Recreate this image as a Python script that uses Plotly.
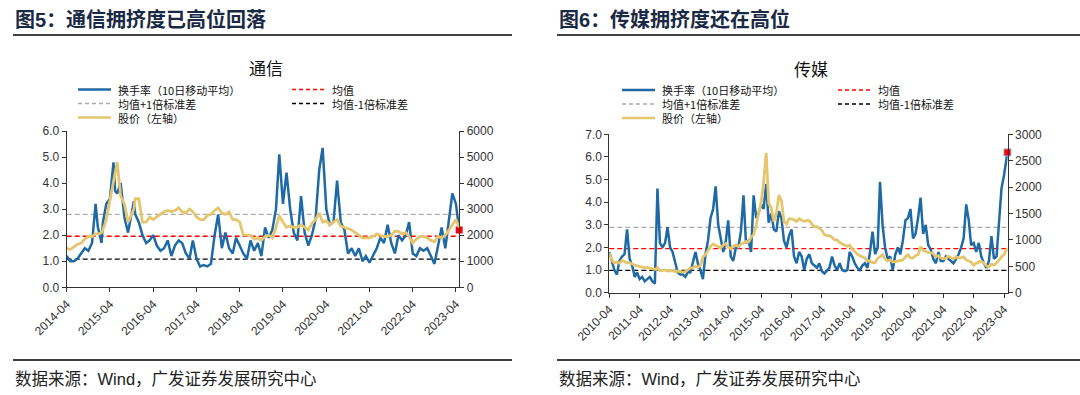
import plotly.graph_objects as go

# ---------------- 通信 (left panel) ----------------
tx_dates = [
 "2014-04","2014-05","2014-06","2014-07","2014-08","2014-09","2014-10","2014-11","2014-12","2014-12-20",
 "2015-01","2015-01-20","2015-02","2015-03","2015-04","2015-05","2015-05-15","2015-06","2015-07","2015-08","2015-09","2015-10","2015-10-20","2015-11","2015-12",
 "2016-01","2016-02","2016-03","2016-04","2016-05","2016-06","2016-07","2016-08","2016-09","2016-10","2016-11","2016-12",
 "2017-01","2017-02","2017-03","2017-04","2017-05","2017-06","2017-07","2017-08","2017-09","2017-10","2017-11","2017-12",
 "2018-01","2018-02","2018-03","2018-04","2018-05","2018-06","2018-07","2018-08","2018-09","2018-10","2018-11","2018-12",
 "2019-01","2019-02","2019-03","2019-04","2019-05","2019-06","2019-07","2019-08","2019-09","2019-10","2019-11","2019-12",
 "2020-01","2020-02","2020-03","2020-04","2020-05","2020-06","2020-07","2020-08","2020-09","2020-10","2020-11","2020-12",
 "2021-01","2021-02","2021-03","2021-04","2021-05","2021-06","2021-07","2021-08","2021-09","2021-10","2021-11","2021-12",
 "2022-01","2022-02","2022-03","2022-04","2022-05","2022-06","2022-07","2022-08","2022-09","2022-10","2022-11","2022-12",
 "2023-01","2023-02","2023-03","2023-04","2023-04-28"]
tx_turnover = [
 1.2,1.0,1.0,1.1,1.3,1.5,1.4,1.7,3.2,2.3,
 2.1,1.7,2.5,3.2,3.4,4.8,3.7,3.6,4.0,2.7,2.1,2.9,3.3,2.8,2.5,
 2.0,1.7,1.8,2.0,1.6,1.4,1.5,1.8,1.2,1.6,1.8,1.7,
 1.3,1.1,1.8,1.1,0.8,0.85,0.8,0.9,2.0,2.8,1.5,2.1,
 1.5,1.3,1.9,1.6,1.3,1.1,1.8,1.4,1.7,1.2,2.3,1.9,
 2.2,3.0,5.1,3.2,4.4,3.0,2.1,1.8,3.5,2.1,1.6,2.0,
 2.6,4.5,5.35,3.0,2.4,2.5,4.1,2.5,2.2,1.3,1.5,1.2,
 1.5,1.0,1.2,0.95,1.2,1.5,1.9,1.7,2.4,1.7,1.3,2.0,
 1.8,2.0,2.5,1.3,1.2,1.5,1.4,1.5,1.2,0.9,1.6,2.3,
 1.5,2.5,3.6,3.2,2.2]
tx_price = [
 1500,1450,1550,1650,1700,1850,1950,1950,2050,2050,
 2050,2100,2200,2600,3300,4000,4300,4800,3500,3200,2500,2800,3000,3400,3400,
 2500,2500,2700,2600,2700,2800,2900,2950,2900,2950,3050,2900,
 2850,3000,2900,2700,2600,2600,2750,2800,2950,3050,2850,2800,
 2900,2600,2600,2500,2000,2000,2000,1850,1900,1800,1950,2000,
 1900,2300,2750,2500,2300,2350,2300,2300,2400,2300,2200,2450,
 2600,2850,2500,2550,2400,2500,2600,2350,2300,2250,2200,2100,
 2000,1900,1900,1900,1950,2050,2000,1950,1950,2000,2150,2150,
 2050,2100,1950,1700,1850,1950,1950,1900,1800,1750,1950,1900,
 2000,2200,2400,2600,2300]
tx_mean, tx_plus, tx_minus = 1.96, 2.80, 1.08
tx_last = 2.2
tx_ticks = ["2014-04","2015-04","2016-04","2017-04","2018-04","2019-04","2020-04","2021-04","2022-04","2023-04"]

# ---------------- 传媒 (right panel) ----------------
cm_dates = [
 "2010-04","2010-05","2010-06","2010-07","2010-08","2010-09","2010-10","2010-11","2010-12",
 "2011-01","2011-02","2011-03","2011-04","2011-05","2011-06","2011-07","2011-08","2011-09","2011-10","2011-11","2011-12",
 "2012-01","2012-02","2012-03","2012-04","2012-05","2012-06","2012-07","2012-08","2012-09","2012-10","2012-11","2012-12",
 "2013-01","2013-02","2013-03","2013-04","2013-05","2013-06","2013-07","2013-08","2013-09","2013-10","2013-11","2013-12",
 "2014-01","2014-02","2014-03","2014-04","2014-05","2014-06","2014-07","2014-08","2014-09","2014-10","2014-11","2014-12",
 "2015-01","2015-02","2015-03","2015-04","2015-05","2015-06","2015-07","2015-08","2015-09","2015-10","2015-11","2015-12",
 "2016-01","2016-02","2016-03","2016-04","2016-05","2016-06","2016-07","2016-08","2016-09","2016-10","2016-11","2016-12",
 "2017-01","2017-02","2017-03","2017-04","2017-05","2017-06","2017-07","2017-08","2017-09","2017-10","2017-11","2017-12",
 "2018-01","2018-02","2018-03","2018-04","2018-05","2018-06","2018-07","2018-08","2018-09","2018-10","2018-11","2018-12",
 "2019-01","2019-02","2019-03","2019-04","2019-05","2019-06","2019-07","2019-08","2019-09","2019-10","2019-11","2019-12",
 "2020-01","2020-02","2020-03","2020-04","2020-05","2020-06","2020-07","2020-08","2020-09","2020-10","2020-11","2020-12",
 "2021-01","2021-02","2021-03","2021-04","2021-05","2021-06","2021-07","2021-08","2021-09","2021-10","2021-11","2021-12",
 "2022-01","2022-02","2022-03","2022-04","2022-05","2022-06","2022-07","2022-08","2022-09","2022-10","2022-11","2022-12",
 "2023-01","2023-02","2023-03","2023-04","2023-05-12"]
cm_turnover = [
 1.8,1.4,1.0,0.8,1.4,1.6,1.7,2.8,1.5,
 1.2,0.7,0.9,0.6,0.7,0.5,0.6,0.7,0.5,0.4,4.6,2.2,
 2.0,2.2,2.9,2.0,1.8,1.3,0.9,0.8,0.8,0.7,0.9,0.9,
 1.3,1.8,1.3,1.0,0.6,1.7,2.3,3.3,3.7,4.7,3.0,2.4,
 1.8,2.3,3.2,1.6,1.4,2.0,2.0,2.7,4.3,2.2,2.3,1.8,
 4.3,3.3,3.5,3.9,3.7,4.8,3.1,3.5,2.8,2.7,3.6,3.3,
 2.3,2.0,2.5,2.8,1.6,1.3,1.8,1.6,1.0,1.5,1.7,1.3,
 1.2,1.1,1.3,0.95,0.85,1.0,1.1,1.6,1.2,1.0,1.3,1.0,
 0.95,1.0,1.8,1.6,1.3,1.1,1.0,1.2,1.3,1.1,1.8,2.7,
 1.7,2.0,4.9,3.0,2.0,1.5,1.6,1.0,1.7,2.0,1.7,2.3,
 3.2,3.3,3.7,2.4,2.6,3.3,4.2,2.6,3.0,2.1,1.9,1.5,
 1.3,1.8,1.4,1.4,1.6,1.5,1.4,1.3,1.5,1.7,2.0,2.4,
 3.9,3.2,2.1,2.2,1.8,2.2,1.6,1.3,1.1,1.4,2.5,1.5,
 1.6,3.4,4.6,5.2,6.2]
cm_price = [
 750,620,560,580,560,610,590,560,570,
 540,520,510,500,490,470,480,460,450,440,470,410,
 420,430,410,410,420,400,410,400,390,400,430,470,
 470,500,480,520,680,720,800,880,920,900,870,850,
 900,930,870,830,880,900,870,920,940,970,960,1050,
 1100,1280,1500,1700,2100,2650,1700,1600,1350,1500,1850,1750,
 1350,1300,1400,1400,1380,1350,1400,1380,1350,1370,1360,1300,
 1250,1250,1220,1180,1100,1080,1080,1050,1000,1000,950,920,
 900,880,900,830,780,730,700,680,660,600,600,570,
 570,650,680,720,640,600,620,580,590,600,600,620,
 680,720,660,660,700,720,870,800,780,760,760,740,
 680,700,660,640,650,690,660,640,680,660,660,680,
 620,600,580,520,560,580,600,560,510,490,540,520,
 560,620,680,720,850]
cm_mean, cm_plus, cm_minus = 1.95, 2.89, 0.99
cm_last = 6.2
cm_ticks = ["2010-04","2011-04","2012-04","2013-04","2014-04","2015-04","2016-04","2017-04",
            "2018-04","2019-04","2020-04","2021-04","2022-04","2023-04"]

legend_names = ["换手率（10日移动平均）", "均值", "均值+1倍标准差", "均值-1倍标准差", "股价（左轴）"]

BLUE = "#1F6AA5"
GOLD = "#E5C66E"
W, H = 1080, 395
NUM_FONT = "Liberation Sans, Arial, sans-serif"
CJK_FONT = "Noto Sans CJK SC, sans-serif"

def px(x):
    return x / W

def py(y):
    return 1 - y / H

fig = go.Figure()

# left panel traces
fig.add_trace(go.Scatter(x=tx_dates, y=tx_price, xaxis="x", yaxis="y2", mode="lines",
                         line=dict(color=GOLD, width=2.8), showlegend=False))
fig.add_trace(go.Scatter(x=tx_dates, y=tx_turnover, xaxis="x", yaxis="y", mode="lines",
                         line=dict(color=BLUE, width=2.5), showlegend=False))
fig.add_trace(go.Scatter(x=[tx_dates[-1]], y=[tx_last], xaxis="x", yaxis="y", mode="markers",
                         marker=dict(color="#FF0000", symbol="square", size=7), showlegend=False, cliponaxis=False))
# right panel traces
fig.add_trace(go.Scatter(x=cm_dates, y=cm_price, xaxis="x2", yaxis="y4", mode="lines",
                         line=dict(color=GOLD, width=2.8), showlegend=False))
fig.add_trace(go.Scatter(x=cm_dates, y=cm_turnover, xaxis="x2", yaxis="y3", mode="lines",
                         line=dict(color=BLUE, width=2.5), showlegend=False))
fig.add_trace(go.Scatter(x=[cm_dates[-1]], y=[cm_last], xaxis="x2", yaxis="y3", mode="markers",
                         marker=dict(color="#FF0000", symbol="square", size=7,
                                     line=dict(color="#8FB3D9", width=1)), showlegend=False, cliponaxis=False))

shapes = []
# reference dashed lines
for xr, yr, vals in [("x domain", "y", (tx_mean, tx_plus, tx_minus)),
                     ("x2 domain", "y3", (cm_mean, cm_plus, cm_minus))]:
    for v, c in zip(vals, ["#FF0000", "#AAAAAA", "#000000"]):
        shapes.append(dict(type="line", xref=xr, yref=yr, x0=0, x1=1, y0=v, y1=v,
                           line=dict(color=c, width=1.3, dash="5px,3px"), layer="below"))

# title rules / bottom rules
for x0, x1 in [(13, 512), (557, 1080)]:
    shapes.append(dict(type="line", xref="paper", yref="paper", x0=px(x0), x1=px(x1),
                       y0=py(35), y1=py(35), line=dict(color="#000", width=1.6)))
    shapes.append(dict(type="line", xref="paper", yref="paper", x0=px(x0), x1=px(x1),
                       y0=py(360), y1=py(360), line=dict(color="#000", width=1.6)))

annotations = []
# panel titles
for x0, t in [(13, "图<span style='font-family:Liberation Sans'>5</span>：通信拥挤度已高位回落"),
              (557, "图<span style='font-family:Liberation Sans'>6</span>：传媒拥挤度还在高位")]:
    annotations.append(dict(xref="paper", yref="paper", x=px(x0), y=py(18), xanchor="left", yanchor="middle",
                            text="<b>" + t + "</b>", showarrow=False,
                            font=dict(family=CJK_FONT, size=20, color="#1B2A44")))
# source
for x0 in [13, 557]:
    annotations.append(dict(xref="paper", yref="paper", x=px(x0), y=py(378), xanchor="left", yanchor="middle",
                            text="数据来源：<span style='font-family:Liberation Sans'>Wind</span>，广发证券发展研究中心",
                            showarrow=False, font=dict(family=CJK_FONT, size=16.5, color="#222")))
# chart titles
annotations.append(dict(xref="paper", yref="paper", x=px(266), y=py(67), xanchor="center", yanchor="middle",
                        text="通信", showarrow=False, font=dict(family=CJK_FONT, size=17, color="#111")))
annotations.append(dict(xref="paper", yref="paper", x=px(811), y=py(68), xanchor="center", yanchor="middle",
                        text="传媒", showarrow=False, font=dict(family=CJK_FONT, size=17, color="#111")))

# manual legends
leg_styles = [(BLUE, 2.4, None), ("#FF0000", 1.3, "4px,3px"), ("#AAAAAA", 1.3, "4px,3px"),
              ("#000000", 1.3, "4px,3px"), (GOLD, 2.6, None)]
for (c1, c2), rows in [((78, 292), (89.5, 103.5, 117.5)), ((622, 838), (90, 104, 118))]:
    pos = [(c1, rows[0]), (c2, rows[0]), (c1, rows[1]), (c2, rows[1]), (c1, rows[2])]
    for (sx, sy), name, (col, wd, dash) in zip(pos, legend_names, leg_styles):
        ln = dict(color=col, width=wd)
        if dash:
            ln["dash"] = dash
        shapes.append(dict(type="line", xref="paper", yref="paper", x0=px(sx), x1=px(sx + 33),
                           y0=py(sy), y1=py(sy), line=ln))
        annotations.append(dict(xref="paper", yref="paper", x=px(sx + 38), y=py(sy), xanchor="left",
                                yanchor="middle", text=name, showarrow=False,
                                font=dict(family=CJK_FONT, size=11, color="#111")))

axis_common = dict(showline=True, linecolor="#333", linewidth=1, ticks="outside", ticklen=4,
                   tickcolor="#333", showgrid=False, zeroline=False, automargin=False,
                   tickfont=dict(family=NUM_FONT, size=12, color="#333"))

fig.update_layout(
    template="none",
    width=W, height=H, margin=dict(l=0, r=0, t=0, b=0, pad=0, autoexpand=False),
    paper_bgcolor="white", plot_bgcolor="white", showlegend=False,
    xaxis=dict(domain=[px(66.7), px(459.3)], anchor="y", type="date",
               range=["2014-04-01", "2023-04-29"], tickvals=tx_ticks, ticktext=tx_ticks,
               tickangle=-45, **axis_common),
    yaxis=dict(domain=[py(287.3), py(131)], anchor="x", range=[0, 6], dtick=1, tickformat=".1f",
               **axis_common),
    yaxis2=dict(overlaying="y", side="right", anchor="x", range=[0, 6000], dtick=1000,
                tickformat="d", **axis_common),
    xaxis2=dict(domain=[px(609.3), px(1007.7)], anchor="y3", type="date",
                range=["2010-04-01", "2023-05-15"], tickvals=cm_ticks, ticktext=cm_ticks,
                tickangle=-45, **axis_common),
    yaxis3=dict(domain=[py(292.7), py(134.3)], anchor="x2", range=[0, 7], dtick=1, tickformat=".1f",
                **axis_common),
    yaxis4=dict(overlaying="y3", side="right", anchor="x2", range=[0, 3000], dtick=500,
                tickformat="d", **axis_common),
    shapes=shapes, annotations=annotations,
)

fig.write_html("out.html", config={"displayModeBar": False},
               post_script="document.body.style.margin='0';document.body.style.padding='0';")
